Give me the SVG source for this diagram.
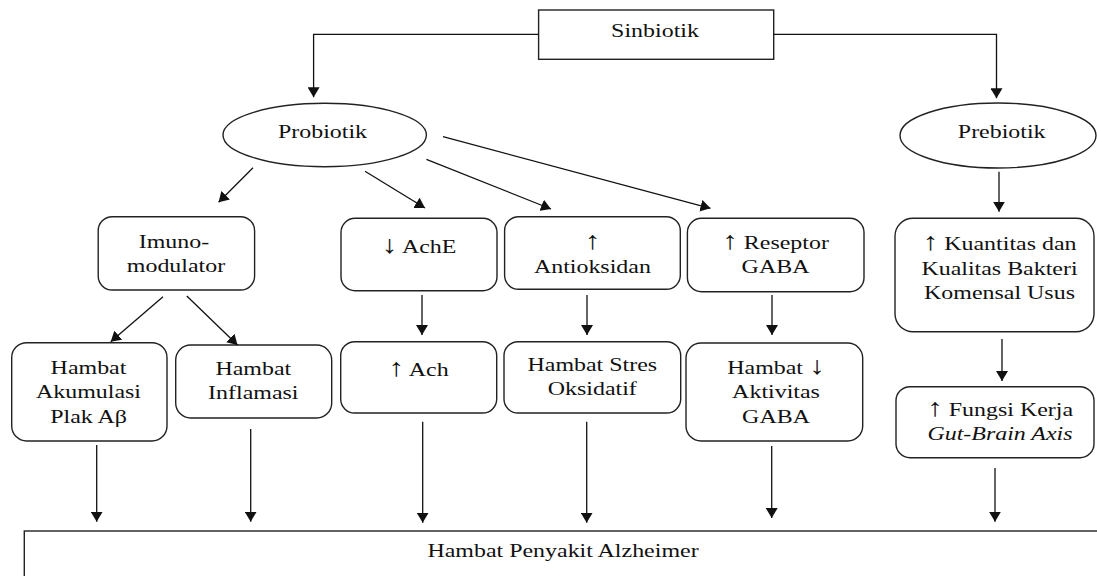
<svg xmlns="http://www.w3.org/2000/svg" width="1097" height="576" viewBox="0 0 1097 576">
<style>
.box{fill:#fff;stroke:#222;stroke-width:1.4}
.ln{fill:none;stroke:#111;stroke-width:1.3;marker-end:url(#ah)}
.t{font-family:"Liberation Serif","Times New Roman",serif;font-size:19px;fill:#111;text-anchor:middle}
.i{font-style:italic}
.ar{font-size:25px}
</style>
<defs>
<marker id="ah" markerUnits="userSpaceOnUse" viewBox="0 0 10 12" markerWidth="10" markerHeight="12" refX="10" refY="6" orient="auto">
<path d="M0,0 L10,6 L0,12 z" fill="#111"/>
</marker>
</defs>
<rect width="1097" height="576" fill="#fff"/>

<g id="sinbiotik">
<rect class="box" x="538.6" y="10" width="235.1" height="49.3"/>
<text class="t" transform="translate(655,37) scale(1.26,1)">Sinbiotik</text>
</g>
<g id="probiotik">
<ellipse class="box" cx="324.7" cy="135" rx="101.7" ry="31.7"/>
<text class="t" transform="translate(322.5,138.3) scale(1.26,1)">Probiotik</text>
</g>
<g id="prebiotik">
<ellipse class="box" cx="998" cy="135.5" rx="98" ry="32.5"/>
<text class="t" transform="translate(1001.7,138.3) scale(1.26,1)">Prebiotik</text>
</g>

<g id="imunomodulator">
<rect class="box" x="98.2" y="216.7" width="156.4" height="73.3" rx="14"/>
<text class="t" transform="translate(174,248.3) scale(1.26,1)"><tspan x="0" y="0">Imuno-</tspan><tspan x="1.6" y="23.4">modulator</tspan></text>
</g>
<g id="ache">
<rect class="box" x="341" y="218.3" width="156" height="72.4" rx="14"/>
<text class="t" transform="translate(419,253.3) scale(1.26,1)"><tspan class="ar">↓</tspan> AchE</text>
</g>
<g id="antioksidan">
<rect class="box" x="504.6" y="216.7" width="175.7" height="72.6" rx="14"/>
<text class="t" transform="translate(592.4,248.7) scale(1.26,1)"><tspan class="ar" x="0" y="0">↑</tspan><tspan x="0" y="24">Antioksidan</tspan></text>
</g>
<g id="reseptor">
<rect class="box" x="687.4" y="218.3" width="176.6" height="73.4" rx="14"/>
<text class="t" transform="translate(775.5,248.5) scale(1.26,1)"><tspan x="0" y="0"><tspan class="ar">↑</tspan> Reseptor</tspan><tspan x="0" y="24.2">GABA</tspan></text>
</g>
<g id="kuantitas">
<rect class="box" x="895" y="218.3" width="199" height="113.4" rx="18"/>
<text class="t" transform="translate(999.5,250) scale(1.26,1)"><tspan x="0" y="0"><tspan class="ar">↑</tspan> Kuantitas dan</tspan><tspan x="0" y="25">Kualitas Bakteri</tspan><tspan x="0" y="49.3">Komensal Usus</tspan></text>
</g>

<g id="akumulasi">
<rect class="box" x="11.7" y="342.7" width="155.3" height="98.3" rx="15"/>
<text class="t" transform="translate(88.5,374) scale(1.26,1)"><tspan x="0" y="0">Hambat</tspan><tspan x="0" y="24.5">Akumulasi</tspan><tspan x="0" y="49.3">Plak Aβ</tspan></text>
</g>
<g id="inflamasi">
<rect class="box" x="175.7" y="345" width="156" height="73" rx="15"/>
<text class="t" transform="translate(253.3,375) scale(1.26,1)"><tspan x="0" y="0">Hambat</tspan><tspan x="0" y="24.3">Inflamasi</tspan></text>
</g>
<g id="ach">
<rect class="box" x="340.7" y="341.7" width="156" height="71.3" rx="14"/>
<text class="t" transform="translate(418.5,376) scale(1.26,1)"><tspan class="ar">↑</tspan> Ach</text>
</g>
<g id="stres">
<rect class="box" x="504" y="341.7" width="176.7" height="71.3" rx="14"/>
<text class="t" transform="translate(592.3,370.7) scale(1.26,1)"><tspan x="0" y="0">Hambat Stres</tspan><tspan x="0" y="24.3">Oksidatif</tspan></text>
</g>
<g id="gaba">
<rect class="box" x="686" y="343" width="176.7" height="98" rx="15"/>
<text class="t" transform="translate(776,374) scale(1.26,1)"><tspan x="0" y="0">Hambat <tspan class="ar">↓</tspan></tspan><tspan x="0" y="24.3">Aktivitas</tspan><tspan x="0" y="48.7">GABA</tspan></text>
</g>
<g id="fungsi">
<rect class="box" x="896" y="386.7" width="198" height="71" rx="14"/>
<text class="t" transform="translate(1000,416) scale(1.26,1)"><tspan x="0" y="0"><tspan class="ar">↑</tspan> Fungsi Kerja</tspan><tspan class="i" x="0" y="24">Gut-Brain Axis</tspan></text>
</g>

<g id="alzheimer">
<rect class="box" x="24.3" y="531" width="1090" height="70" stroke-width="1.6"/>
<text class="t" transform="translate(563,556.7) scale(1.26,1)">Hambat Penyakit Alzheimer</text>
</g>

<g id="connectors">
<path class="ln" d="M538.6,34.3 H313.6 V97.3"/>
<path class="ln" d="M773.7,34.3 H996.5 V98.3"/>
<path class="ln" d="M253,167.7 L218.6,202.3"/>
<path class="ln" d="M365,171.3 L425,208"/>
<path class="ln" d="M426.4,159.3 L551,209"/>
<path class="ln" d="M443,136.7 L710.5,208.3"/>
<path class="ln" d="M999,171.7 V211.7"/>
<path class="ln" d="M163,296.7 L110.7,341.7"/>
<path class="ln" d="M186.8,296 L237.5,345"/>
<path class="ln" d="M422,295 V335"/>
<path class="ln" d="M587,295 V335"/>
<path class="ln" d="M772,295 V335"/>
<path class="ln" d="M1002,339 V381"/>
<path class="ln" d="M96.7,445 V521.7"/>
<path class="ln" d="M250.7,429 V521.7"/>
<path class="ln" d="M422.7,421.7 V522.7"/>
<path class="ln" d="M586.7,421.7 V522.7"/>
<path class="ln" d="M771.7,446 V518"/>
<path class="ln" d="M995,468 V521.7"/>
</g>
</svg>
